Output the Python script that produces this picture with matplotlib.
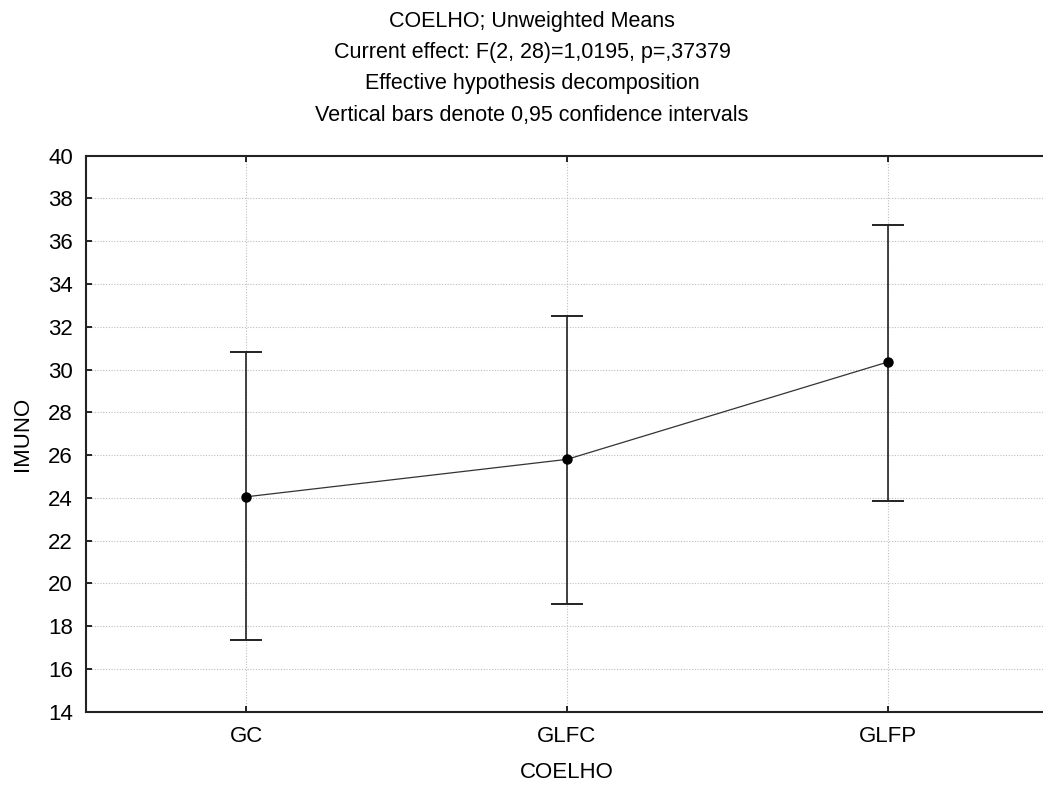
import matplotlib
matplotlib.use("Agg")
import matplotlib.pyplot as plt

plt.rcParams['font.family'] = ['Liberation Sans', 'DejaVu Sans']

groups = ["GC", "GLFC", "GLFP"]
means = [24.05, 25.8, 30.35]
ci_low = [17.35, 19.05, 23.85]
ci_high = [30.8, 32.5, 36.75]
yticks = list(range(14, 41, 2))
title_lines = ["COELHO; Unweighted Means",
               "Current effect: F(2, 28)=1,0195, p=,37379",
               "Effective hypothesis decomposition",
               "Vertical bars denote 0,95 confidence intervals"]

W, H = 1043, 787
ax_l, ax_r, ax_t, ax_b = 86, 1048, 155.7, 711.7
fig = plt.figure(figsize=(W / 100, H / 100), dpi=100)
ax = fig.add_axes([ax_l / W, (H - ax_b) / H, (ax_r - ax_l) / W, (ax_b - ax_t) / H])

x = list(range(len(groups)))
err_lo = [m - l for m, l in zip(means, ci_low)]
err_hi = [h - m for m, h in zip(means, ci_high)]

ax.plot(x, means, color="#333333", lw=0.9, zorder=3)
ax.errorbar(x, means, yerr=[err_lo, err_hi], fmt="none", ecolor="#222222",
            elinewidth=1.2, capsize=11.5, capthick=1.4, zorder=4)
ax.plot(x, means, "o", color="black", ms=6.5, zorder=5)

ax.set_xlim(-0.5, 2.5)
ax.set_ylim(14, 40)
ax.set_xticks(x)
ax.set_xticklabels(groups)
ax.set_yticks(yticks)
ax.grid(True, linestyle=(0, (1, 1.5)), color="#bdbdbd", lw=0.8)
ax.set_axisbelow(True)

for s in ["left", "top", "bottom"]:
    ax.spines[s].set_linewidth(1.5)
    ax.spines[s].set_color("#222222")
ax.spines["right"].set_visible(False)
ax.tick_params(direction="in", length=4, width=1.2, labelsize=16, top=True)
ax.tick_params(axis="y", pad=9.5)
ax.tick_params(axis="x", pad=10)

ax.set_xlabel("COELHO", fontsize=16, va="center")
ax.xaxis.set_label_coords(0.5, (ax_b - 773) / (ax_b - ax_t))
ax.set_ylabel("IMUNO", fontsize=16, va="center", ha="center")
ax.yaxis.set_label_coords((22.5 - ax_l) / (ax_r - ax_l), 0.5)

for i, line in enumerate(title_lines):
    fig.text(532 / W, 1 - (21 + 31.5 * i) / H, line, ha="center", va="center", fontsize=15.5)

fig.savefig("out.png", dpi=100)
